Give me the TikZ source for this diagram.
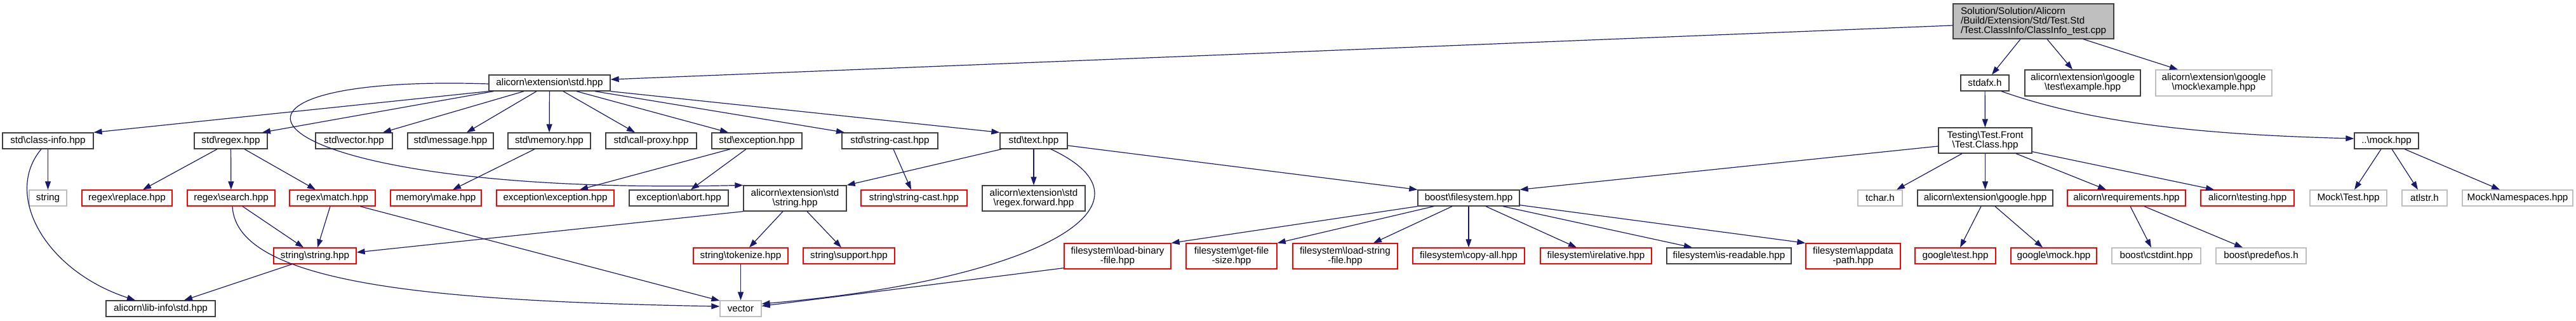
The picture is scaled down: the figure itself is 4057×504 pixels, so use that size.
\documentclass[tikz,border=0pt]{standalone}
\usepackage{fontspec}
\newfontfamily\nodefont{Liberation Sans}
\usetikzlibrary{arrows.meta}
\definecolor{edgeblue}{HTML}{191970}
\definecolor{nodeblack}{HTML}{404040}
\definecolor{nodered}{HTML}{FF0000}
\definecolor{nodegray}{HTML}{BFBFBF}
\newcommand\bks{\textbackslash}
\begin{document}
\begin{tikzpicture}[x=1pt,y=-1pt,
  nb/.style={draw=nodeblack, line width=1.3pt, fill=white, inner sep=0pt, align=center,
    minimum height=25pt, font={\nodefont\fontsize{15.2}{15}\selectfont}},
  nr/.style={nb, draw=nodered},
  ng/.style={nb, draw=nodegray},
  conn/.style={draw=edgeblue, line width=1.2pt, -{Triangle[length=13pt,width=9pt]}}]
\useasboundingbox (0,0) rectangle (4057,504);
% row 0
\node[nb, fill=nodegray, minimum width=253pt, minimum height=55pt, align=left] (root) at (3202.5,33.5)
  {Solution/Solution/Alicorn\\/Build/Extension/Std/Test.Std\\/Test.ClassInfo/ClassInfo\_test.cpp};
% row 1
\node[nb, minimum width=191pt] (estd) at (865.5,130.5) {alicorn\bks extension\bks std.hpp};
\node[nb, minimum width=76pt] (stdafx) at (3126,130.5) {stdafx.h};
\node[nb, minimum width=182pt, minimum height=41pt] (gtex) at (3280,130.5) {alicorn\bks extension\bks google\\\bks test\bks example.hpp};
\node[ng, minimum width=183pt, minimum height=41pt] (gmex) at (3486.5,130.5) {alicorn\bks extension\bks google\\\bks mock\bks example.hpp};
% row 2
\node[nb, minimum width=143pt] (classinfo) at (75.5,221.5) {std\bks class-info.hpp};
\node[nb, minimum width=115pt] (regex) at (363.5,221.5) {std\bks regex.hpp};
\node[nb, minimum width=121pt] (vectorh) at (557.5,221.5) {std\bks vector.hpp};
\node[nb, minimum width=135pt] (message) at (709.5,221.5) {std\bks message.hpp};
\node[nb, minimum width=130pt] (memory) at (865,221.5) {std\bks memory.hpp};
\node[nb, minimum width=143pt] (callproxy) at (1025.5,221.5) {std\bks call-proxy.hpp};
\node[nb, minimum width=142pt] (exception) at (1192,221.5) {std\bks exception.hpp};
\node[nb, minimum width=151pt] (stringcast) at (1401.5,221.5) {std\bks string-cast.hpp};
\node[nb, minimum width=106pt] (text) at (1628,221.5) {std\bks text.hpp};
\node[nb, minimum width=147pt, minimum height=40pt] (testclass) at (3126.5,221) {Testing\bks Test.Front\\\bks Test.Class.hpp};
\node[nb, minimum width=101pt] (mock) at (3758.5,221.5) {..\bks mock.hpp};
% row 3
\node[ng, minimum width=59pt] (string) at (75.5,311.5) {string};
\node[nr, minimum width=142pt] (replace) at (200,311.5) {regex\bks replace.hpp};
\node[nr, minimum width=138pt] (search) at (364,311.5) {regex\bks search.hpp};
\node[nr, minimum width=135pt] (match) at (523.5,311.5) {regex\bks match.hpp};
\node[nr, minimum width=143pt] (make) at (686.5,311.5) {memory\bks make.hpp};
\node[nr, minimum width=185pt] (exexc) at (874.5,311.5) {exception\bks exception.hpp};
\node[nb, minimum width=156pt] (abort) at (1069,311.5) {exception\bks abort.hpp};
\node[nb, minimum width=162pt, minimum height=40pt] (sstring) at (1252,312) {alicorn\bks extension\bks std\\\bks string.hpp};
\node[nr, minimum width=167pt] (sscast) at (1439.5,311.5) {string\bks string-cast.hpp};
\node[nb, minimum width=162pt, minimum height=40pt] (regfwd) at (1628,312) {alicorn\bks extension\bks std\\\bks regex.forward.hpp};
\node[nb, minimum width=160pt] (bfs) at (2313,311.5) {boost\bks filesystem.hpp};
\node[ng, minimum width=70pt] (tchar) at (2961,311.5) {tchar.h};
\node[nb, minimum width=213pt] (egoogle) at (3126.5,311.5) {alicorn\bks extension\bks google.hpp};
\node[nr, minimum width=186pt] (req) at (3349,311.5) {alicorn\bks requirements.hpp};
\node[nr, minimum width=147pt] (testing) at (3539.5,311.5) {alicorn\bks testing.hpp};
\node[ng, minimum width=121pt] (mtest) at (3698.5,311.5) {Mock\bks Test.hpp};
\node[ng, minimum width=71pt] (atlstr) at (3818.5,311.5) {atlstr.h};
\node[ng, minimum width=174pt] (mns) at (3965,311.5) {Mock\bks Namespaces.hpp};
% row 4
\node[nr, minimum width=130pt] (strstr) at (496,402.5) {string\bks string.hpp};
\node[nr, minimum width=149pt] (tokenize) at (1166.5,402.5) {string\bks tokenize.hpp};
\node[nr, minimum width=144pt] (support) at (1337,402.5) {string\bks support.hpp};
\node[nr, minimum width=168pt, minimum height=40pt] (loadbin) at (1760,403) {filesystem\bks load-binary\\-file.hpp};
\node[nr, minimum width=143pt, minimum height=40pt] (getsize) at (1939.5,403) {filesystem\bks get-file\\-size.hpp};
\node[nr, minimum width=165pt, minimum height=40pt] (loadstr) at (2118.5,403) {filesystem\bks load-string\\-file.hpp};
\node[nr, minimum width=176pt] (copyall) at (2313,402.5) {filesystem\bks copy-all.hpp};
\node[nr, minimum width=175pt] (irel) at (2513.5,402.5) {filesystem\bks irelative.hpp};
\node[nb, minimum width=196pt] (isread) at (2723,402.5) {filesystem\bks is-readable.hpp};
\node[nr, minimum width=149pt, minimum height=40pt] (appdata) at (2918.5,403) {filesystem\bks appdata\\-path.hpp};
\node[nr, minimum width=127pt] (gtest) at (3079.5,402.5) {google\bks test.hpp};
\node[nr, minimum width=135pt] (gmock) at (3234.5,402.5) {google\bks mock.hpp};
\node[ng, minimum width=140pt] (cstdint) at (3396,402.5) {boost\bks cstdint.hpp};
\node[ng, minimum width=142pt] (predef) at (3561,402.5) {boost\bks predef\bks os.h};
% row 5
\node[nb, minimum width=172pt] (libinfo) at (253,485.5) {alicorn\bks lib-info\bks std.hpp};
\node[ng, minimum width=65pt] (vector) at (1166.5,485.5) {vector};
% edges: root
\draw[conn] ([yshift=-6.5pt]root.west) -- ([yshift=5.5pt]estd.east);
\draw[conn] ([xshift=-20.5pt]root.south) -- ([xshift=11pt]stdafx.north);
\draw[conn] ([xshift=21.5pt]root.south) -- ([xshift=-16pt]gtex.north);
\draw[conn] ([xshift=78.5pt]root.south) -- ([xshift=-56.5pt]gmex.north);
\draw[conn] (stdafx) -- (testclass);
\draw[conn] ([xshift=26pt]stdafx.south) .. controls +(148,52) and +(-228,-6) .. ([yshift=3.5pt]mock.west);
% estd
\draw[conn] (estd.south west) -- (classinfo.north east);
\draw[conn] ([xshift=8pt]estd.south west) -- ([xshift=49.5pt]regex.north);
\draw[conn] ([xshift=-40.5pt]estd.south) -- ([xshift=45.5pt]vectorh.north);
\draw[conn] ([xshift=-20.5pt]estd.south) -- ([xshift=25.5pt]message.north);
\draw[conn] (estd) -- (memory);
\draw[conn] ([xshift=21.5pt]estd.south) -- ([xshift=-25.5pt]callproxy.north);
\draw[conn] ([xshift=42.5pt]estd.south) -- ([xshift=-45pt]exception.north);
\draw[conn] ([xshift=71.5pt]estd.south) -- ([xshift=-71.5pt]stringcast.north);
\draw[conn] (estd.south east) -- (text.north west);
\draw[conn] ([yshift=-1.5pt]estd.west) .. controls +(-520,-17) and +(-791,18) .. (sstring.north west);
% classinfo
\draw[conn] (classinfo) -- (string);
\draw[conn] ([xshift=-10.5pt]classinfo.south) .. controls +(-60,71) and +(-143,-47) .. ([xshift=-40pt]libinfo.north);
% regex
\draw[conn] ([xshift=-21.5pt]regex.south) -- ([xshift=25pt]replace.north);
\draw[conn] (regex) -- (search);
\draw[conn] ([xshift=21.5pt]regex.south) -- ([xshift=-26.5pt]match.north);
% search, match
\draw[conn] ([xshift=18pt]search.south) -- ([xshift=-18pt]strstr.north);
\draw[conn] ([xshift=2pt]search.south) .. controls +(6,125) and +(-434,-8) .. ([yshift=3.5pt]vector.west);
\draw[conn] ([xshift=-3.5pt]match.south) -- ([xshift=4pt]strstr.north);
\draw[conn] ([xshift=43.5pt]match.south) -- ([yshift=12.5pt]vector.west);
% memory, exception, string-cast
\draw[conn] ([xshift=-23pt]memory.south) -- ([xshift=26.5pt]make.north);
\draw[conn] ([xshift=-42pt]exception.south) -- ([xshift=38.5pt]exexc.north);
\draw[conn] ([xshift=-17pt]exception.south) -- ([xshift=19pt]abort.north);
\draw[conn] ([xshift=5.5pt]stringcast.south) -- ([xshift=-4.5pt]sscast.north);
% text
\draw[conn] ([xshift=3pt]text.south west) -- (sstring.north east);
\draw[conn] (text) -- (regfwd);
\draw[conn] ([xshift=27pt]text.south) .. controls +(185,86) and +(440,-38) .. ([yshift=7.5pt]vector.east);
\draw[conn] ([yshift=-7.5pt]text.east) -- (bfs.north west);
% sstring
\draw[conn] (sstring.south west) -- ([yshift=5.5pt]strstr.east);
\draw[conn] ([xshift=-19pt]sstring.south) -- ([xshift=13.5pt]tokenize.north);
\draw[conn] ([xshift=19pt]sstring.south) -- ([xshift=-12pt]support.north);
\draw[conn] (tokenize) -- (vector);
\draw[conn] ([yshift=2pt]loadbin.south west) -- ([yshift=4pt]vector.east);
% strstr
\draw[conn] ([xshift=-36pt]strstr.south) -- ([xshift=37pt]libinfo.north);
% bfs
\draw[conn] (bfs.south west) -- (loadbin.north east);
\draw[conn] ([xshift=-55pt]bfs.south) -- (getsize.north east);
\draw[conn] ([xshift=-26pt]bfs.south) -- ([xshift=44.5pt]loadstr.north);
\draw[conn] (bfs) -- (copyall);
\draw[conn] ([xshift=27pt]bfs.south) -- ([xshift=-30.5pt]irel.north);
\draw[conn] ([xshift=54pt]bfs.south) -- ([xshift=-58pt]isread.north);
\draw[conn] ([yshift=2pt]bfs.south east) -- (appdata.north west);
% testclass
\draw[conn] ([yshift=-9pt]testclass.west) -- (bfs.north east);
\draw[conn] ([xshift=-36.5pt]testclass.south) -- ([xshift=26pt]tchar.north);
\draw[conn] (testclass) -- (egoogle);
\draw[conn] ([xshift=48.5pt]testclass.south) -- ([xshift=-32pt]req.north);
\draw[conn] ([yshift=3pt]testclass.south east) -- ([xshift=-52.5pt]testing.north);
% egoogle, req, mock
\draw[conn] ([xshift=-6.5pt]egoogle.south) -- ([xshift=7.5pt]gtest.north);
\draw[conn] ([xshift=15.5pt]egoogle.south) -- ([xshift=-17.5pt]gmock.north);
\draw[conn] ([xshift=6pt]req.south) -- ([xshift=-8pt]cstdint.north);
\draw[conn] ([xshift=28pt]req.south) -- ([xshift=-29pt]predef.north);
\draw[conn] ([xshift=-8.5pt]mock.south) -- ([xshift=9.5pt]mtest.north);
\draw[conn] ([xshift=8.5pt]mock.south) -- ([xshift=-10.5pt]atlstr.north);
\draw[conn] ([xshift=28.5pt]mock.south) -- ([xshift=-28pt]mns.north);
\end{tikzpicture}
\end{document}
